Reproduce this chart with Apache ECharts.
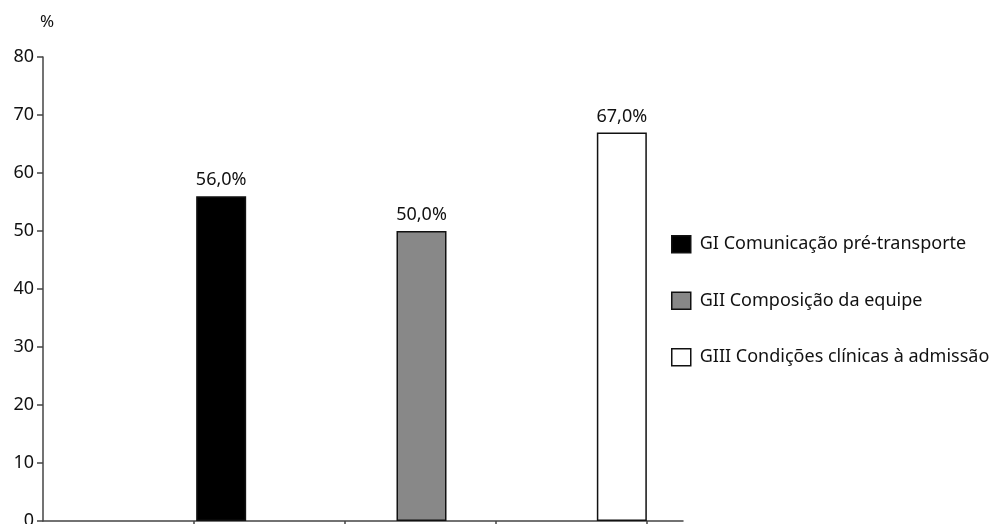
<!DOCTYPE html>
<html>
<head>
<meta charset="utf-8">
<script src="https://cdn.jsdelivr.net/npm/echarts@6/dist/echarts.min.js"></script>
<style>
  html, body { margin: 0; padding: 0; background: #fff; }
  #chart { width: 1005px; height: 524px; }
</style>
</head>
<body>
<div id="chart"></div>
<script>
// dados
const groups = ['GI Comunicação pré-transporte', 'GII Composição da equipe', 'GIII Condições clínicas à admissão'];
const values = [56.0, 50.0, 67.0];
const barColors = ['#000000', '#888888', '#ffffff'];
const yTicks = { min: 0, max: 80, interval: 10 };
// marcas do eixo horizontal (sem rótulos)
const xTickValues = [1, 2, 3, 4];
const xTickMax = 4.24;

const chart = echarts.init(document.getElementById('chart'));
const font = '"Noto Sans", "Open Sans", sans-serif';
const axisColor = '#444';

const series = groups.map((name, i) => ({
  name: name,
  type: 'bar',
  xAxisIndex: 1,
  yAxisIndex: 1,
  barWidth: 50,
  barGap: '-100%',
  data: values.map((v, j) => (j === i ? v : '-')),
  itemStyle: { color: barColors[i], borderColor: '#111', borderWidth: 1.5 },
  label: {
    show: true,
    position: 'top',
    distance: 7,
    color: '#111',
    fontFamily: font,
    fontSize: 18,
    formatter: p => p.value.toFixed(1).replace('.', ',') + '%'
  }
}));

const option = {
  animation: false,
  backgroundColor: '#fff',
  grid: [
    { left: 43, right: 322, top: 57, bottom: 3, outerBoundsMode: 'none' },
    { left: 121, right: 283, top: 57, bottom: 3, outerBoundsMode: 'none' }
  ],
  legend: {
    orient: 'vertical',
    left: 671,
    top: 235,
    padding: 0,
    itemWidth: 19,
    itemHeight: 17,
    itemGap: 38,
    icon: 'rect',
    textStyle: { fontFamily: font, fontSize: 18, color: '#111', padding: [0, 0, 0, 4] },
    data: groups.map((g, i) => ({
      name: g,
      itemStyle: { color: barColors[i], borderColor: '#111', borderWidth: 1.5 }
    }))
  },
  xAxis: [
    {
      type: 'value',
      gridIndex: 0,
      min: 0,
      max: xTickMax,
      axisLine: { show: true, lineStyle: { color: axisColor, width: 1.5 } },
      axisTick: { show: true, customValues: xTickValues, length: 5, lineStyle: { color: axisColor, width: 1.5 } },
      axisLabel: { show: false },
      splitLine: { show: false }
    },
    {
      type: 'category',
      gridIndex: 1,
      data: groups,
      show: false
    }
  ],
  yAxis: [
    {
      type: 'value',
      gridIndex: 0,
      min: yTicks.min,
      max: yTicks.max,
      interval: yTicks.interval,
      name: '%',
      nameLocation: 'end',
      nameGap: 26,
      nameTextStyle: { fontFamily: font, fontSize: 17, color: '#111', padding: [0, 0, 0, 8] },
      axisLine: { show: true, lineStyle: { color: axisColor, width: 1.5 } },
      axisTick: { show: true, length: 6, lineStyle: { color: axisColor, width: 1.5 } },
      axisLabel: { fontFamily: font, fontSize: 18, color: '#111', margin: 9 },
      splitLine: { show: false }
    },
    {
      type: 'value',
      gridIndex: 1,
      min: yTicks.min,
      max: yTicks.max,
      show: false,
      splitLine: { show: false }
    }
  ],
  series: series
};

chart.setOption(option);
</script>
</body>
</html>
